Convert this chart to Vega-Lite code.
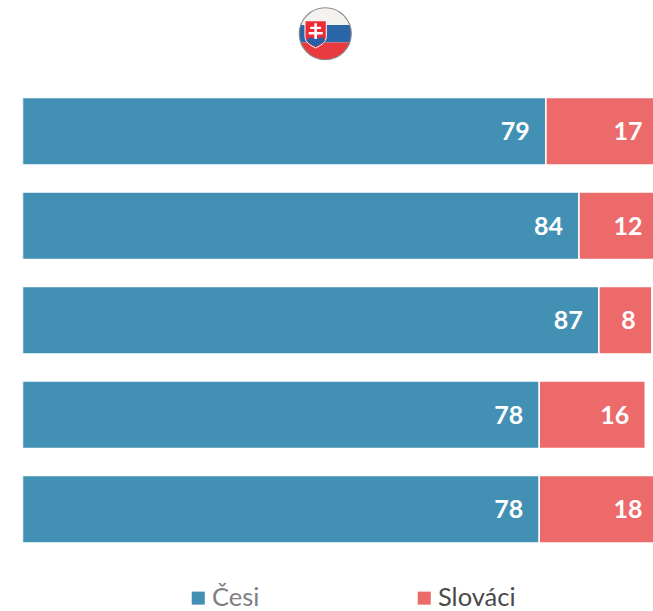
{"$schema":"https://vega.github.io/schema/vega-lite/v6.json","width":630.5,"height":540,"autosize":{"type":"none"},"padding":{"left":22.5,"top":3,"right":0,"bottom":68},"background":"white","config":{"view":{"stroke":null}},"datasets":{"bars":[{"row":"1","group":"Česi","order":1,"value":79},{"row":"1","group":"Slováci","order":2,"value":17},{"row":"2","group":"Česi","order":1,"value":84},{"row":"2","group":"Slováci","order":2,"value":12},{"row":"3","group":"Česi","order":1,"value":87},{"row":"3","group":"Slováci","order":2,"value":8},{"row":"4","group":"Česi","order":1,"value":78},{"row":"4","group":"Slováci","order":2,"value":16},{"row":"5","group":"Česi","order":1,"value":78},{"row":"5","group":"Slováci","order":2,"value":18}],"flag":[{"row":"flag","pos":45.7}]},"encoding":{"y":{"field":"row","type":"nominal","axis":null,"scale":{"domain":["flag","1","2","3","4","5"],"paddingInner":0.2857,"paddingOuter":0}}},"layer":[{"data":{"name":"bars"},"mark":{"type":"bar","clip":true,"stroke":"white","strokeWidth":1.5},"encoding":{"x":{"field":"value","type":"quantitative","stack":"zero","axis":null,"scale":{"domain":[0,95.17],"nice":false,"zero":true}},"order":{"field":"order","type":"ordinal"},"color":{"field":"group","type":"nominal","scale":{"domain":["Česi","Slováci"],"range":["#4291b4","#ed6a6a"]},"legend":{"orient":"none","legendX":163,"legendY":582,"direction":"horizontal","columns":2,"title":null,"symbolType":"square","symbolSize":170,"symbolStrokeWidth":0,"labelFont":"Lato","labelFontSize":25.5,"labelLimit":200,"labelOffset":1,"columnPadding":152,"symbolOpacity":1,"labelColor":{"expr":"datum.label == 'Česi' ? '#7f7f7f' : '#4a4a4a'"}}}}},{"data":{"name":"bars"},"mark":{"type":"text","align":"right","baseline":"middle","dx":-16,"dy":1,"font":"Lato","fontWeight":"bold","fontSize":25,"fill":"white"},"encoding":{"x":{"field":"value","type":"quantitative","stack":"zero"},"order":{"field":"order","type":"ordinal"},"detail":{"field":"group"},"text":{"field":"value","type":"quantitative"}}},{"data":{"name":"flag"},"mark":{"type":"point","filled":true,"size":2704,"yOffset":-3,"fill":"#f4f2ee","stroke":null,"opacity":1,"shape":"M-0.943,-0.333 A1,1 0 0 1 0.943,-0.333 Z"},"encoding":{"x":{"field":"pos","type":"quantitative"}}},{"data":{"name":"flag"},"mark":{"type":"point","filled":true,"size":2704,"yOffset":-3,"fill":"#2a66a8","stroke":null,"opacity":1,"shape":"M-0.943,-0.333 L0.943,-0.333 A1,1 0 0 1 0.943,0.333 L-0.943,0.333 A1,1 0 0 1 -0.943,-0.333 Z"},"encoding":{"x":{"field":"pos","type":"quantitative"}}},{"data":{"name":"flag"},"mark":{"type":"point","filled":true,"size":2704,"yOffset":-3,"fill":"#e93a3f","stroke":null,"opacity":1,"shape":"M-0.943,0.333 L0.943,0.333 A1,1 0 0 1 -0.943,0.333 Z"},"encoding":{"x":{"field":"pos","type":"quantitative"}}},{"data":{"name":"flag"},"mark":{"type":"point","filled":false,"size":2704,"yOffset":-3,"stroke":"#8a8a8a","strokeWidth":1.2,"opacity":1,"shape":"M-1,0 A1,1 0 1 1 1,0 A1,1 0 1 1 -1,0 Z"},"encoding":{"x":{"field":"pos","type":"quantitative"}}},{"data":{"name":"flag"},"mark":{"type":"point","filled":true,"size":2704,"yOffset":-3,"fill":"#ee2b34","stroke":"#ffffff","strokeWidth":1,"opacity":1,"shape":"M-0.78,-0.5 L0.04,-0.5 L0.04,0.1 C0.04,0.35 -0.2,0.45 -0.37,0.55 C-0.54,0.45 -0.78,0.35 -0.78,0.1 Z"},"encoding":{"x":{"field":"pos","type":"quantitative"}}},{"data":{"name":"flag"},"mark":{"type":"point","filled":true,"size":2704,"yOffset":-3,"fill":"#2a5fa8","stroke":null,"opacity":1,"shape":"M-0.72,0.25 C-0.6,0.1 -0.5,0.12 -0.45,0.2 C-0.38,0.05 -0.3,0.05 -0.26,0.2 C-0.2,0.12 -0.1,0.1 0,0.25 C-0.08,0.38 -0.25,0.44 -0.37,0.5 C-0.5,0.44 -0.65,0.38 -0.72,0.25 Z"},"encoding":{"x":{"field":"pos","type":"quantitative"}}},{"data":{"name":"flag"},"mark":{"type":"point","filled":true,"size":2704,"yOffset":-3,"fill":"#ffffff","stroke":null,"opacity":1,"shape":"M-0.42,-0.4 H-0.32 V-0.27 H-0.16 V-0.18 H-0.32 V-0.07 H-0.1 V0.03 H-0.32 V0.2 H-0.42 V0.03 H-0.64 V-0.07 H-0.42 V-0.18 H-0.58 V-0.27 H-0.42 Z"},"encoding":{"x":{"field":"pos","type":"quantitative"}}}]}
